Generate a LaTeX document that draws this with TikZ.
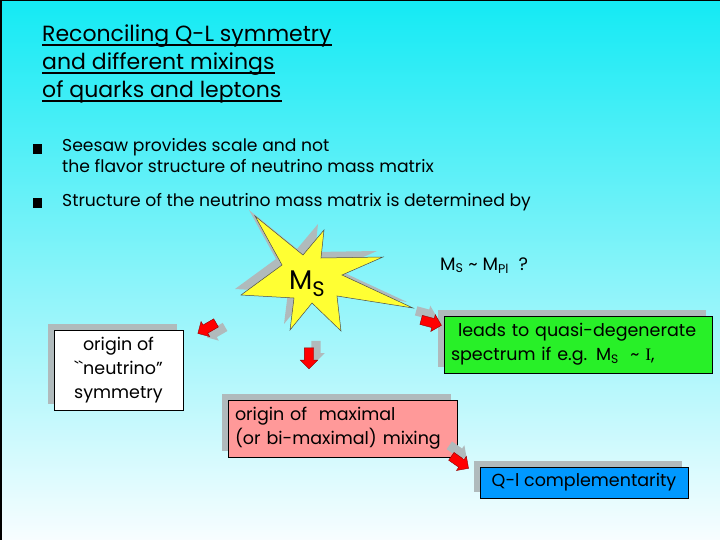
\documentclass[tikz,border=0pt]{standalone}
\usepackage{fontspec}
\setmainfont{Poppins}
\newfontfamily\serifI{Liberation Serif}
\usetikzlibrary{shapes.arrows,shadows}
\definecolor{bgtop}{RGB}{20,234,244}
\definecolor{bgbot}{RGB}{248,253,255}
\definecolor{shgray}{RGB}{176,186,188}
\definecolor{starfill}{RGB}{255,255,51}
\definecolor{boxgreen}{RGB}{40,240,40}
\definecolor{boxpink}{RGB}{255,153,153}
\definecolor{boxblue}{RGB}{0,153,255}
\definecolor{arrred}{RGB}{255,0,0}
\begin{document}
\begin{tikzpicture}[x=1pt,y=-1pt,
  txt/.style={inner sep=0pt, anchor=base west},
  titlefont/.style={font=\fontsize{22}{28}\selectfont},
  bulletfont/.style={font=\fontsize{17.2}{20}\selectfont},
  boxfont/.style={font=\fontsize{17.5}{24}\selectfont},
  bulletsq/.style={fill=black, inner sep=0pt, minimum width=9pt, minimum height=10pt},
  box/.style={draw=black, line width=0.8pt, inner sep=0pt,
    general shadow={shadow xshift=-6pt, shadow yshift=6pt, fill=shgray}},
  blockarrow/.style={single arrow, draw=red!55!black, line width=0.4pt, fill=arrred,
    minimum height=21pt, inner sep=4.5pt, single arrow head extend=4pt},
  blockshadow/.style={single arrow, fill=shgray, draw=none,
    minimum height=21pt, inner sep=4.5pt, single arrow head extend=4pt}
]
% background
\shade[top color=bgtop, bottom color=bgbot] (0,0) rectangle (720,540);
\useasboundingbox (0,0) rectangle (720,540);
\draw[line width=1.5pt, black] (0.75,540) -- (0.75,0.75) -- (720,0.75);

% title
\node[txt, titlefont] (t1) at (42,42) {Reconciling Q-L symmetry};
\node[txt, titlefont] (t2) at (42,70) {and different mixings};
\node[txt, titlefont] (t3) at (42,98) {of quarks and leptons};
\foreach \n in {t1,t2,t3}
  \draw[line width=2pt] ([yshift=-3pt]\n.base west) -- ([yshift=-3pt]\n.base east);

% bullets
\node[bulletsq] (b1) at (37.5,149) {};
\node[txt, bulletfont] (l1) at (62,152) {Seesaw provides scale and not};
\node[txt, bulletfont] (l2) at (62,173) {the flavor structure of neutrino mass matrix};
\node[bulletsq] (b2) at (37.5,203) {};
\node[txt, bulletfont] (l3) at (62,207) {Structure of the neutrino mass matrix is determined by};

% star
\begin{scope}[shift={(-6,-6)}]
\fill[shgray] (255,216) -- (303,255) -- (324,230) -- (321,258) -- (383,257) -- (342,275)
  -- (413,308) -- (337,296) -- (341,331) -- (312,303) -- (290,330) -- (294,298)
  -- (241,295) -- (282,265) -- cycle;
\end{scope}
\draw[fill=starfill, draw=black!70, line width=0.5pt]
  (255,216) -- (303,255) -- (324,230) -- (321,258) -- (383,257) -- (342,275)
  -- (413,308) -- (337,296) -- (341,331) -- (312,303) -- (290,330) -- (294,298)
  -- (241,295) -- (282,265) -- cycle;
\node[txt, font=\fontsize{27}{30}\selectfont] (ms) at (289,289) {M\raisebox{-7pt}{\fontsize{21}{21}\selectfont S}};

% M_S ~ M_Pl ?
\node[txt, font=\fontsize{18}{20}\selectfont] (msmpl) at (440,270)
  {M\textsubscript{S} \textasciitilde{} M\textsubscript{Pl}\ \ ?};

% boxes
\node[box, fill=white, boxfont, minimum width=129pt, minimum height=80pt, align=center]
  (sym) at (118.5,370) {origin of\\\textasciigrave\textasciigrave neutrino”\\symmetry};
\node[box, fill=boxgreen, boxfont, text width=254pt, inner xsep=7pt, minimum height=57pt, align=left]
  (deg) at (578,344.5) {\mbox{\hspace*{7pt}leads to quasi-degenerate}\\\mbox{spectrum if e.g. M\textsubscript{S}\ \ \textasciitilde{} {\serifI I},}};
\node[box, fill=boxpink, boxfont, text width=215pt, inner xsep=7pt, minimum height=57pt, align=left]
  (mix) at (342.5,428.5) {\mbox{origin of\ \ maximal}\\\mbox{(or bi-maximal) mixing}};
\node[box, fill=boxblue, boxfont, minimum width=208pt, minimum height=31pt, align=center]
  (qlc) at (584,482.5) {Q-l complementarity};

% block arrows
\node[blockshadow, rotate=210] (a1s) at (218,331) {};
\node[blockarrow, rotate=210] (a1) at (209,327) {};
\node[blockshadow, rotate=270] (a2s) at (316,349) {};
\node[blockarrow, rotate=270] (a2) at (309,356) {};
\node[blockshadow, rotate=-15] (a3s) at (424,313) {};
\node[blockarrow, rotate=-15] (a3) at (429,322) {};
\node[blockshadow, rotate=-35] (a4s) at (456,450) {};
\node[blockarrow, rotate=-35] (a4) at (458,461) {};
\end{tikzpicture}
\end{document}
